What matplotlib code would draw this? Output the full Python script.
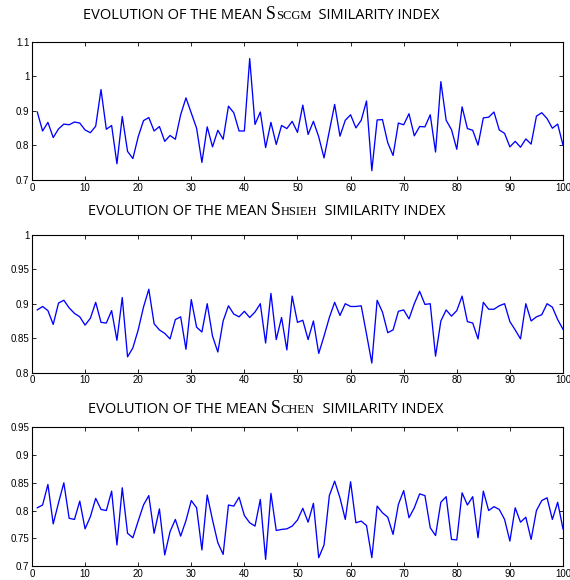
import numpy as np
import matplotlib
matplotlib.use('Agg')
import matplotlib.pyplot as plt

# valores (iteraciones 1..100)
iteraciones = np.arange(1, 101)

s_scgm = [0.897, 0.842, 0.867, 0.823, 0.848, 0.862, 0.860, 0.868, 0.865, 0.845,
          0.837, 0.856, 0.962, 0.847, 0.858, 0.747, 0.884, 0.783, 0.762, 0.825,
          0.872, 0.881, 0.842, 0.855, 0.812, 0.829, 0.818, 0.889, 0.938, 0.894,
          0.850, 0.751, 0.854, 0.796, 0.844, 0.818, 0.914, 0.895, 0.842, 0.842,
          1.052, 0.861, 0.897, 0.794, 0.867, 0.803, 0.858, 0.849, 0.870, 0.838,
          0.917, 0.832, 0.870, 0.825, 0.764, 0.842, 0.919, 0.827, 0.873, 0.889,
          0.851, 0.873, 0.929, 0.727, 0.874, 0.875, 0.808, 0.771, 0.865, 0.860,
          0.892, 0.828, 0.855, 0.854, 0.889, 0.781, 0.985, 0.873, 0.846, 0.789,
          0.912, 0.849, 0.844, 0.801, 0.880, 0.882, 0.897, 0.845, 0.835, 0.796,
          0.812, 0.795, 0.819, 0.804, 0.885, 0.895, 0.878, 0.850, 0.862, 0.801]

s_hsieh = [0.891, 0.896, 0.890, 0.870, 0.901, 0.905, 0.894, 0.886, 0.881, 0.869,
           0.879, 0.902, 0.873, 0.872, 0.890, 0.847, 0.909, 0.823, 0.836, 0.862,
           0.895, 0.921, 0.871, 0.862, 0.857, 0.849, 0.877, 0.881, 0.834, 0.906,
           0.866, 0.859, 0.900, 0.853, 0.830, 0.875, 0.897, 0.885, 0.881, 0.889,
           0.880, 0.888, 0.900, 0.843, 0.915, 0.848, 0.880, 0.833, 0.911, 0.873,
           0.876, 0.848, 0.875, 0.828, 0.853, 0.880, 0.902, 0.883, 0.900, 0.896,
           0.896, 0.897, 0.856, 0.814, 0.905, 0.888, 0.858, 0.862, 0.889, 0.891,
           0.878, 0.900, 0.918, 0.899, 0.900, 0.824, 0.875, 0.891, 0.882, 0.890,
           0.911, 0.874, 0.872, 0.849, 0.902, 0.892, 0.892, 0.897, 0.900, 0.874,
           0.862, 0.849, 0.900, 0.875, 0.881, 0.884, 0.900, 0.895, 0.877, 0.863]

s_chen = [0.805, 0.810, 0.847, 0.776, 0.814, 0.850, 0.786, 0.784, 0.817, 0.767,
          0.789, 0.822, 0.802, 0.800, 0.835, 0.738, 0.841, 0.759, 0.751, 0.781,
          0.810, 0.827, 0.759, 0.803, 0.720, 0.762, 0.784, 0.754, 0.782, 0.818,
          0.805, 0.729, 0.828, 0.783, 0.742, 0.721, 0.810, 0.808, 0.824, 0.791,
          0.778, 0.772, 0.820, 0.712, 0.831, 0.764, 0.766, 0.767, 0.772, 0.783,
          0.804, 0.779, 0.813, 0.715, 0.738, 0.827, 0.853, 0.823, 0.784, 0.852,
          0.778, 0.781, 0.773, 0.715, 0.808, 0.796, 0.788, 0.757, 0.811, 0.836,
          0.787, 0.805, 0.830, 0.827, 0.769, 0.755, 0.815, 0.825, 0.748, 0.747,
          0.832, 0.810, 0.825, 0.751, 0.835, 0.800, 0.807, 0.802, 0.784, 0.745,
          0.805, 0.779, 0.788, 0.748, 0.800, 0.818, 0.823, 0.784, 0.815, 0.767]

nombres = ['SCGM', 'HSIEH', 'CHEN']
series = [s_scgm, s_hsieh, s_chen]
limites_y = [(0.7, 1.1), (0.8, 1.0), (0.7, 0.95)]
ticks_y = [[0.7, 0.8, 0.9, 1.0, 1.1],
           [0.8, 0.85, 0.9, 0.95, 1.0],
           [0.7, 0.75, 0.8, 0.85, 0.9, 0.95]]
etiquetas_y = [['0.7', '0.8', '0.9', '1', '1.1'],
               ['0.8', '0.85', '0.9', '0.95', '1'],
               ['0.7', '0.75', '0.8', '0.85', '0.9', '0.95']]
ticks_x = list(range(0, 101, 10))

fig = plt.figure(figsize=(5.7, 5.8), dpi=100)

# posiciones de los ejes [izq, abajo, ancho, alto]
pos_ejes = [[0.0561, 0.6897, 0.9316, 0.2379],
            [0.0561, 0.3574, 0.9316, 0.2379],
            [0.0561, 0.0241, 0.9316, 0.2391]]
# posicion de los titulos (x izq, y linea base)
pos_titulos = [(0.1456, 0.967), (0.154, 0.629), (0.154, 0.288)]

fuente_ticks = 'Liberation Sans'
fuente_titulo = 'Open Sans'
fuente_serif = 'Liberation Serif'

for k in range(3):
    ax = fig.add_axes(pos_ejes[k])
    ax.plot(iteraciones, series[k], color='#0000ff', lw=0.95)
    ax.set_xlim(0, 100)
    ax.set_ylim(*limites_y[k])
    ax.set_xticks(ticks_x)
    ax.set_xticklabels([str(t) for t in ticks_x], family=fuente_ticks, fontsize=7)
    ax.set_yticks(ticks_y[k])
    ax.set_yticklabels(etiquetas_y[k], family=fuente_ticks, fontsize=7)
    ax.tick_params(direction='in', length=3, width=0.6, top=True, right=True, pad=2,
                   colors='black')
    for sp in ax.spines.values():
        sp.set_linewidth(0.8)

fig.canvas.draw()
renderer = fig.canvas.get_renderer()

for k in range(3):
    piezas = [('EVOLUTION OF THE MEAN ', fuente_titulo, 10.5),
              ('S', fuente_serif, 12.8),
              (nombres[k], fuente_serif, 9.0),
              ('  SIMILARITY INDEX', fuente_titulo, 10.5)]
    x, y = pos_titulos[k]
    for txt, fam, tam in piezas:
        t = fig.text(x, y, txt, family=fam, fontsize=tam, va='baseline', ha='left')
        bb = t.get_window_extent(renderer)
        x += bb.width / fig.bbox.width

fig.savefig('out.png', dpi=100)
